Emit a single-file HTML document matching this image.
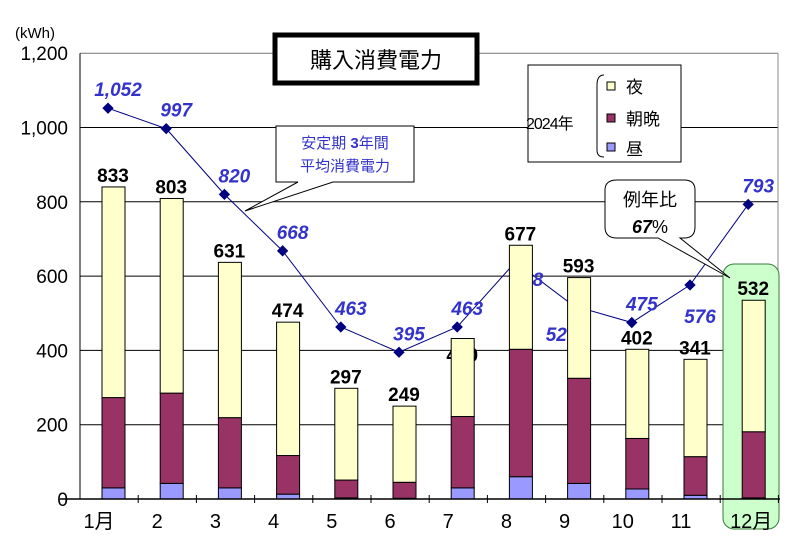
<!DOCTYPE html>
<html><head><meta charset="utf-8"><style>
body{margin:0;background:#fff;}
svg text{font-family:"Liberation Sans","Noto Sans CJK JP",sans-serif;}
</style></head><body>
<svg id="chart" width="800" height="550" viewBox="0 0 800 550" xmlns="http://www.w3.org/2000/svg">
<rect x="0" y="0" width="800" height="550" fill="#fff"/>
<g id="grid"></g>
<rect x="723" y="264" width="56" height="265" rx="11" fill="#ccffcc" stroke="#3a7a3a" stroke-width="1"/>
<g id="line"></g>
<g id="bars"></g>
<g id="axes"></g>
<rect x="275" y="35" width="202" height="48" fill="#fff" stroke="#000" stroke-width="5"/>
<text x="376" y="68" font-size="22" text-anchor="middle">購入消費電力</text>
<g>
<rect x="528" y="65" width="153" height="97" fill="#fff" stroke="#000" stroke-width="1"/>
<text x="526" y="129" font-size="16" letter-spacing="-1">2024年</text>
<path d="M604,75 Q597,75 597,85 L597,150 Q597,157 604,157" fill="none" stroke="#000" stroke-width="1"/>
<rect x="607" y="82" width="8" height="8" fill="#ffffcc" stroke="#000" stroke-width="1"/>
<text x="626" y="93" font-size="17">夜</text>
<rect x="607" y="114" width="8" height="8" fill="#993366" stroke="#000" stroke-width="1"/>
<text x="626" y="125" font-size="17">朝晩</text>
<rect x="607" y="143" width="8" height="8" fill="#9999ff" stroke="#000" stroke-width="1"/>
<text x="626" y="155" font-size="17">昼</text>
</g>
<g>
<path d="M276,126 L414,126 L414,182 L333,182 L245,211 L298,182 L276,182 Z" fill="#fff" stroke="#000" stroke-width="1"/>
<text x="345" y="148" font-size="15" fill="#3333cc" text-anchor="middle">安定期 <tspan font-weight="bold">3</tspan>年間</text>
<text x="345" y="171" font-size="15" fill="#3333cc" text-anchor="middle">平均消費電力</text>
</g>
<g>
<path d="M617,180 L684,180 Q695,180 695,190 L695,227 Q695,238 684,238 L680,238 L730,278 L658,238 L617,238 Q605,238 605,227 L605,190 Q605,180 617,180 Z" fill="#fff" stroke="#000" stroke-width="1"/>
<text x="650" y="206" font-size="18" text-anchor="middle">例年比</text>
<text x="650" y="233" font-size="18" text-anchor="middle"><tspan font-weight="bold" font-style="italic">67</tspan>%</text>
</g>
<text x="15" y="38" font-size="15">(kWh)</text>
</svg>
<script>
const categories=["1月","2","3","4","5","6","7","8","9","10","11","12月"];
const daySeries=[30,42,30,13,3,2,30,60,42,27,10,3];
const morningSeries=[243,243,189,104,48,43,192,343,283,136,104,178];
const nightSeries=[567,524,418,359,247,205,210,280,271,240,262,354];
const totalLabels=["833","803","631","474","297","249","440","677","593","402","341","532"];
const avgSeries=[1052,997,820,668,463,395,463,638,520,475,576,793];
const yTicks=[0,200,400,600,800,1000,1200];
const yTickLabels=["0","200","400","600","800","1,000","1,200"];

const NS="http://www.w3.org/2000/svg";
const y0=499, pxPer=74.3/200, bandX0=80, band=58.2;
function yS(v){return y0-v*pxPer;}
function bandStart(i){return bandX0+i*band;}
function mk(tag,attrs,parent,txt){const e=document.createElementNS(NS,tag);for(const k in attrs)e.setAttribute(k,attrs[k]);if(txt!==undefined)e.textContent=txt;parent.appendChild(e);return e;}
const grid=document.getElementById('grid'),lineG=document.getElementById('line'),barsG=document.getElementById('bars'),axes=document.getElementById('axes');

yTicks.forEach((t,i)=>{
  if(t>0){const g=mk('line',{x1:80,x2:778,y1:yS(t),y2:yS(t),stroke:i===yTicks.length-1?'#777':'#000','stroke-width':1},grid);
  
  }
  const l=mk('text',{x:68,y:yS(t)+7,'font-size':19,'text-anchor':'end'},axes,yTickLabels[i]);
  
  
});
const rb=mk('line',{x1:778,x2:778,y1:yS(1200),y2:y0,stroke:'#888','stroke-width':1},grid);



const pts=avgSeries.map((v,i)=>[bandStart(i)+28,yS(v)]);
const pl=mk('polyline',{points:pts.map(p=>p.join(',')).join(' '),fill:'none',stroke:'#000080','stroke-width':1},lineG);


avgSeries.forEach((v,i)=>{
  const [x,y]=pts[i];
  const m=mk('rect',{x:x-4,y:y-4,width:8,height:8,fill:'#000080',transform:`rotate(45 ${x} ${y})`},lineG);
  
  
  const lbl=v>=1000?(Math.floor(v/1000)+','+String(v%1000).padStart(3,'0')):String(v);
  let lx=x+10,ly=y-12;
  if(i===10){lx=x+10;ly=y+38;}
  if(i===8){lx=x-12;ly=y+35;}
  if(i===7){lx=x+12;ly=y+24;}
  const t=mk('text',{x:lx,y:ly,'font-size':19,'font-weight':'bold','font-style':'italic',fill:'#3333cc','text-anchor':'middle'},lineG,lbl);
  
  
});
function barLabel(i,parent){
  const top=daySeries[i]+morningSeries[i]+nightSeries[i];
  let y=yS(top)-5; if(i===6)y=yS(top)+23;
  const t=mk('text',{x:bandStart(i)+33,y:y,'font-size':19,'font-weight':'bold','text-anchor':'middle'},parent,totalLabels[i]);
  
  
}
barLabel(6,barsG);
categories.forEach((c,i)=>{
  const x=bandStart(i)+22,w=23;
  let base=0;
  [[daySeries,'#9999ff','day'],[morningSeries,'#993366','morning-evening'],[nightSeries,'#ffffcc','night']].forEach(([arr,col,nm])=>{
    const v=arr[i];
    const r=mk('rect',{x:x,y:yS(base+v),width:w,height:v*pxPer,fill:col,stroke:'#000','stroke-width':1},barsG);
    
    
    base+=v;
  });
});
categories.forEach((c,i)=>{ if(i!==6) barLabel(i,barsG); });

const xa=mk('line',{x1:60,x2:780,y1:y0,y2:y0,stroke:'#000','stroke-width':1.5},axes);


const ya=mk('line',{x1:80,x2:80,y1:yS(1200),y2:y0,stroke:'#000','stroke-width':1},axes);


for(let i=1;i<=categories.length;i++){
  const tk=mk('line',{x1:bandStart(i),x2:bandStart(i),y1:y0-4,y2:y0+4,stroke:'#000','stroke-width':1},axes);
  
  
}
categories.forEach((c,i)=>{
  const t=mk('text',{x:bandStart(i)+19+(i===11?12:0),y:528,'font-size':20,'text-anchor':'middle'},axes,c);
  
  
});
</script>
</body></html>
